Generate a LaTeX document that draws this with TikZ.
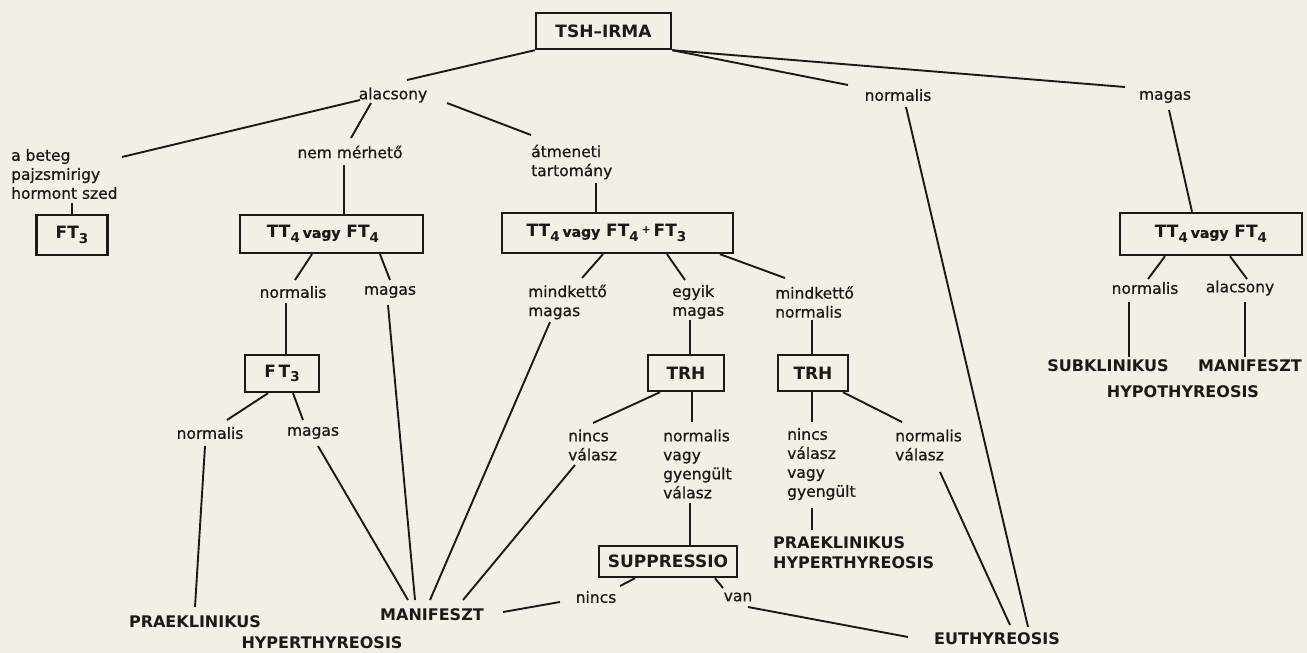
\documentclass[tikz,border=0pt]{standalone}
\usepackage{fontspec}
\setmainfont{DejaVu Sans}
\newfontfamily\lblfont{DejaVu Sans}[FakeBold=0.7]
\definecolor{paper}{RGB}{243,239,229}
\definecolor{ink}{RGB}{28,26,24}
\newcommand{\lsub}[1]{\raisebox{-0.5ex}{\fontsize{13.5}{13.5}\selectfont #1}}
\newcommand{\vg}{{\fontsize{14}{14}\lblfont vagy}}
\begin{document}
\begin{tikzpicture}[x=1pt,y=-1pt,
 lbl/.style={text=ink,font=\lblfont\fontsize{15.5}{19}\selectfont,inner sep=0pt,align=left},
 capl/.style={text=ink,font=\bfseries\fontsize{16}{20}\selectfont,inner sep=0pt,align=left},
 boxn/.style={draw=ink,line width=2.4pt,text=ink,font=\bfseries\fontsize{17}{20}\selectfont,inner sep=0pt},
 ln/.style={draw=ink,line width=1.9pt}]
\fill[paper] (0,0) rectangle (1307,653);
\useasboundingbox (0,0) rectangle (1307,653);
% nodes
\node[boxn,minimum width=135pt,minimum height=36pt] (tsh) at (603.5,31) {TSH–IRMA};
\node[lbl] (alac) at (393,95) {alacsony};
\node[lbl] (norm0) at (898,95) {normalis};
\node[lbl] (mag0) at (1165,97) {magas};
\node[lbl,anchor=west] (beteg) at (11,174) {a beteg\\pajzsmirigy\\hormont szed};
\node[lbl] (nemm) at (350,152) {nem mérhető};
\node[lbl,anchor=west] (atm) at (531,162) {átmeneti\\tartomány};
\node[boxn,minimum width=71pt,minimum height=40pt] (ft3a) at (72,235) {FT\lsub{3}};
\node[boxn,minimum width=183pt,minimum height=38pt] (box2) at (331.5,234) {TT\lsub{4}\,\vg\ FT\lsub{4}\hspace*{17pt}};
\node[boxn,minimum width=231pt,minimum height=40pt] (box3) at (617.5,233) {TT\lsub{4}\,\vg\ FT\lsub{4}\,\raisebox{0.4ex}{\fontsize{11}{11}\selectfont +}\,FT\lsub{3}\hspace*{22pt}};
\node[boxn,minimum width=182pt,minimum height=42pt] (box4) at (1211,234) {TT\lsub{4}\,\vg\ FT\lsub{4}};
\node[lbl] (norm1) at (293,292) {normalis};
\node[lbl] (mag1) at (390,292) {magas};
\node[boxn,minimum width=74pt,minimum height=37pt] (ft3b) at (282,373.5) {F\,T\lsub{3}};
\node[lbl] (norm2) at (210,433) {normalis};
\node[lbl] (mag2) at (313,433) {magas};
\node[lbl,anchor=west] (mm) at (528,302) {mindkettő\\magas};
\node[lbl,anchor=west] (egy) at (672,302) {egyik\\magas};
\node[lbl,anchor=west] (mn) at (775,302) {mindkettő\\normalis};
\node[boxn,minimum width=76pt,minimum height=36pt] (trh1) at (686,373) {TRH};
\node[boxn,minimum width=70pt,minimum height=36pt] (trh2) at (813,373) {TRH};
\node[lbl,anchor=west] (nv1) at (568,445) {nincs\\válasz};
\node[lbl,anchor=west] (nvgv) at (663,464) {normalis\\vagy\\gyengült\\válasz};
\node[lbl,anchor=west] (nvvg) at (787,464) {nincs\\válasz\\vagy\\gyengült};
\node[lbl,anchor=west] (nval) at (895,445) {normalis\\válasz};
\node[capl,anchor=west] (prae2) at (773,553) {PRAEKLINIKUS\\HYPERTHYREOSIS};
\node[boxn,minimum width=138pt,minimum height=31pt] (supp) at (668,561.5) {SUPPRESSIO};
\node[lbl] (nincs3) at (596,597) {nincs};
\node[lbl] (van) at (738,597) {van};
\node[capl] (manif1) at (432,615) {MANIFESZT};
\node[capl] (prae1) at (195,622) {PRAEKLINIKUS};
\node[capl] (hyper1) at (322,643) {HYPERTHYREOSIS};
\node[capl] (euth) at (997,639) {EUTHYREOSIS};
\node[lbl] (norm4) at (1145,288) {normalis};
\node[lbl] (alac4) at (1240,288) {alacsony};
\node[capl] (subk) at (1108,366) {SUBKLINIKUS};
\node[capl] (manif2) at (1250,366) {MANIFESZT};
\node[capl] (hypo) at (1183,392) {HYPOTHYREOSIS};
% connectors
\draw[ln] (tsh.south west) -- ([shift={(14,-15)}]alac.center);
\draw[ln] (tsh.south east) -- ([shift={(-50,-10)}]norm0.center);
\draw[ln] (tsh.south east) -- ([shift={(-40,-10)}]mag0.center);
\draw[ln] ([shift={(-33,5)}]alac.center) -- ([shift={(111,-17)}]beteg.west);
\draw[ln] ([shift={(-22,8)}]alac.center) -- ([shift={(1,-14)}]nemm.center);
\draw[ln] ([shift={(54,8)}]alac.center) -- ([shift={(0,-27)}]atm.west);
\draw[ln] ([shift={(61,29)}]beteg.west) -- (ft3a.north);
\draw[ln] ([shift={(-6,13)}]nemm.center) -- ([shift={(12.5,0)}]box2.north);
\draw[ln] ([shift={(65,21)}]atm.west) -- ([shift={(-21.5,0)}]box3.north);
\draw[ln] ([shift={(4,13)}]mag0.center) -- ([shift={(-19,0)}]box4.north);
\draw[ln] ([shift={(-19.5,0)}]box2.south) -- ([shift={(2,-12)}]norm1.center);
\draw[ln] ([shift={(48.5,0)}]box2.south) -- ([shift={(0,-12)}]mag1.center);
\draw[ln] ([shift={(-7,11)}]norm1.center) -- ([shift={(4,0)}]ft3b.north);
\draw[ln] ([shift={(-2,13)}]mag1.center) -- ([shift={(-17,-15)}]manif1.center);
\draw[ln] ([shift={(-14,0)}]ft3b.south) -- ([shift={(17,-13)}]norm2.center);
\draw[ln] ([shift={(11,0)}]ft3b.south) -- ([shift={(-10,-13)}]mag2.center);
\draw[ln] ([shift={(-5,13)}]norm2.center) -- ([shift={(0,-15)}]prae1.center);
\draw[ln] ([shift={(5,13)}]mag2.center) -- ([shift={(-24,-15)}]manif1.center);
\draw[ln] ([shift={(-14.5,0)}]box3.south) -- ([shift={(54,-24)}]mm.west);
\draw[ln] ([shift={(49.5,0)}]box3.south) -- ([shift={(13,-22)}]egy.west);
\draw[ln] ([shift={(102.5,0)}]box3.south) -- ([shift={(10,-24)}]mn.west);
\draw[ln] ([shift={(22,20)}]mm.west) -- ([shift={(-2,-15)}]manif1.center);
\draw[ln] ([shift={(18,18)}]egy.west) -- ([shift={(4,0)}]trh1.north);
\draw[ln] ([shift={(37,18)}]mn.west) -- ([shift={(-1,0)}]trh2.north);
\draw[ln] ([shift={(-26,0)}]trh1.south) -- ([shift={(25,-22)}]nv1.west);
\draw[ln] ([shift={(6,0)}]trh1.south) -- ([shift={(29,-42)}]nvgv.west);
\draw[ln] ([shift={(-1,0)}]trh2.south) -- ([shift={(25,-42)}]nvvg.west);
\draw[ln] ([shift={(30,0)}]trh2.south) -- ([shift={(7,-23)}]nval.west);
\draw[ln] ([shift={(7,20)}]nv1.west) -- ([shift={(31,-15)}]manif1.center);
\draw[ln] ([shift={(27,39)}]nvgv.west) -- ([shift={(22,0)}]supp.north);
\draw[ln] ([shift={(25,44)}]nvvg.west) -- ([shift={(39,-23)}]prae2.west);
\draw[ln] ([shift={(45,27)}]nval.west) -- ([shift={(13,-14)}]euth.center);
\draw[ln] ([shift={(8,12)}]norm0.center) -- ([shift={(31,-12)}]euth.center);
\draw[ln] ([shift={(-33,0)}]supp.south) -- ([shift={(24,-11)}]nincs3.center);
\draw[ln] ([shift={(47,0)}]supp.south) -- ([shift={(-15,-9)}]van.center);
\draw[ln] ([shift={(-36,5)}]nincs3.center) -- ([shift={(71,-3)}]manif1.center);
\draw[ln] ([shift={(10,10)}]van.center) -- ([shift={(-89,-2)}]euth.center);
\draw[ln] ([shift={(-46,0)}]box4.south) -- ([shift={(3,-9)}]norm4.center);
\draw[ln] ([shift={(19,0)}]box4.south) -- ([shift={(7,-9)}]alac4.center);
\draw[ln] ([shift={(-16,14)}]norm4.center) -- ([shift={(21,-9)}]subk.center);
\draw[ln] ([shift={(5,14)}]alac4.center) -- ([shift={(-5,-9)}]manif2.center);
\end{tikzpicture}
\end{document}
